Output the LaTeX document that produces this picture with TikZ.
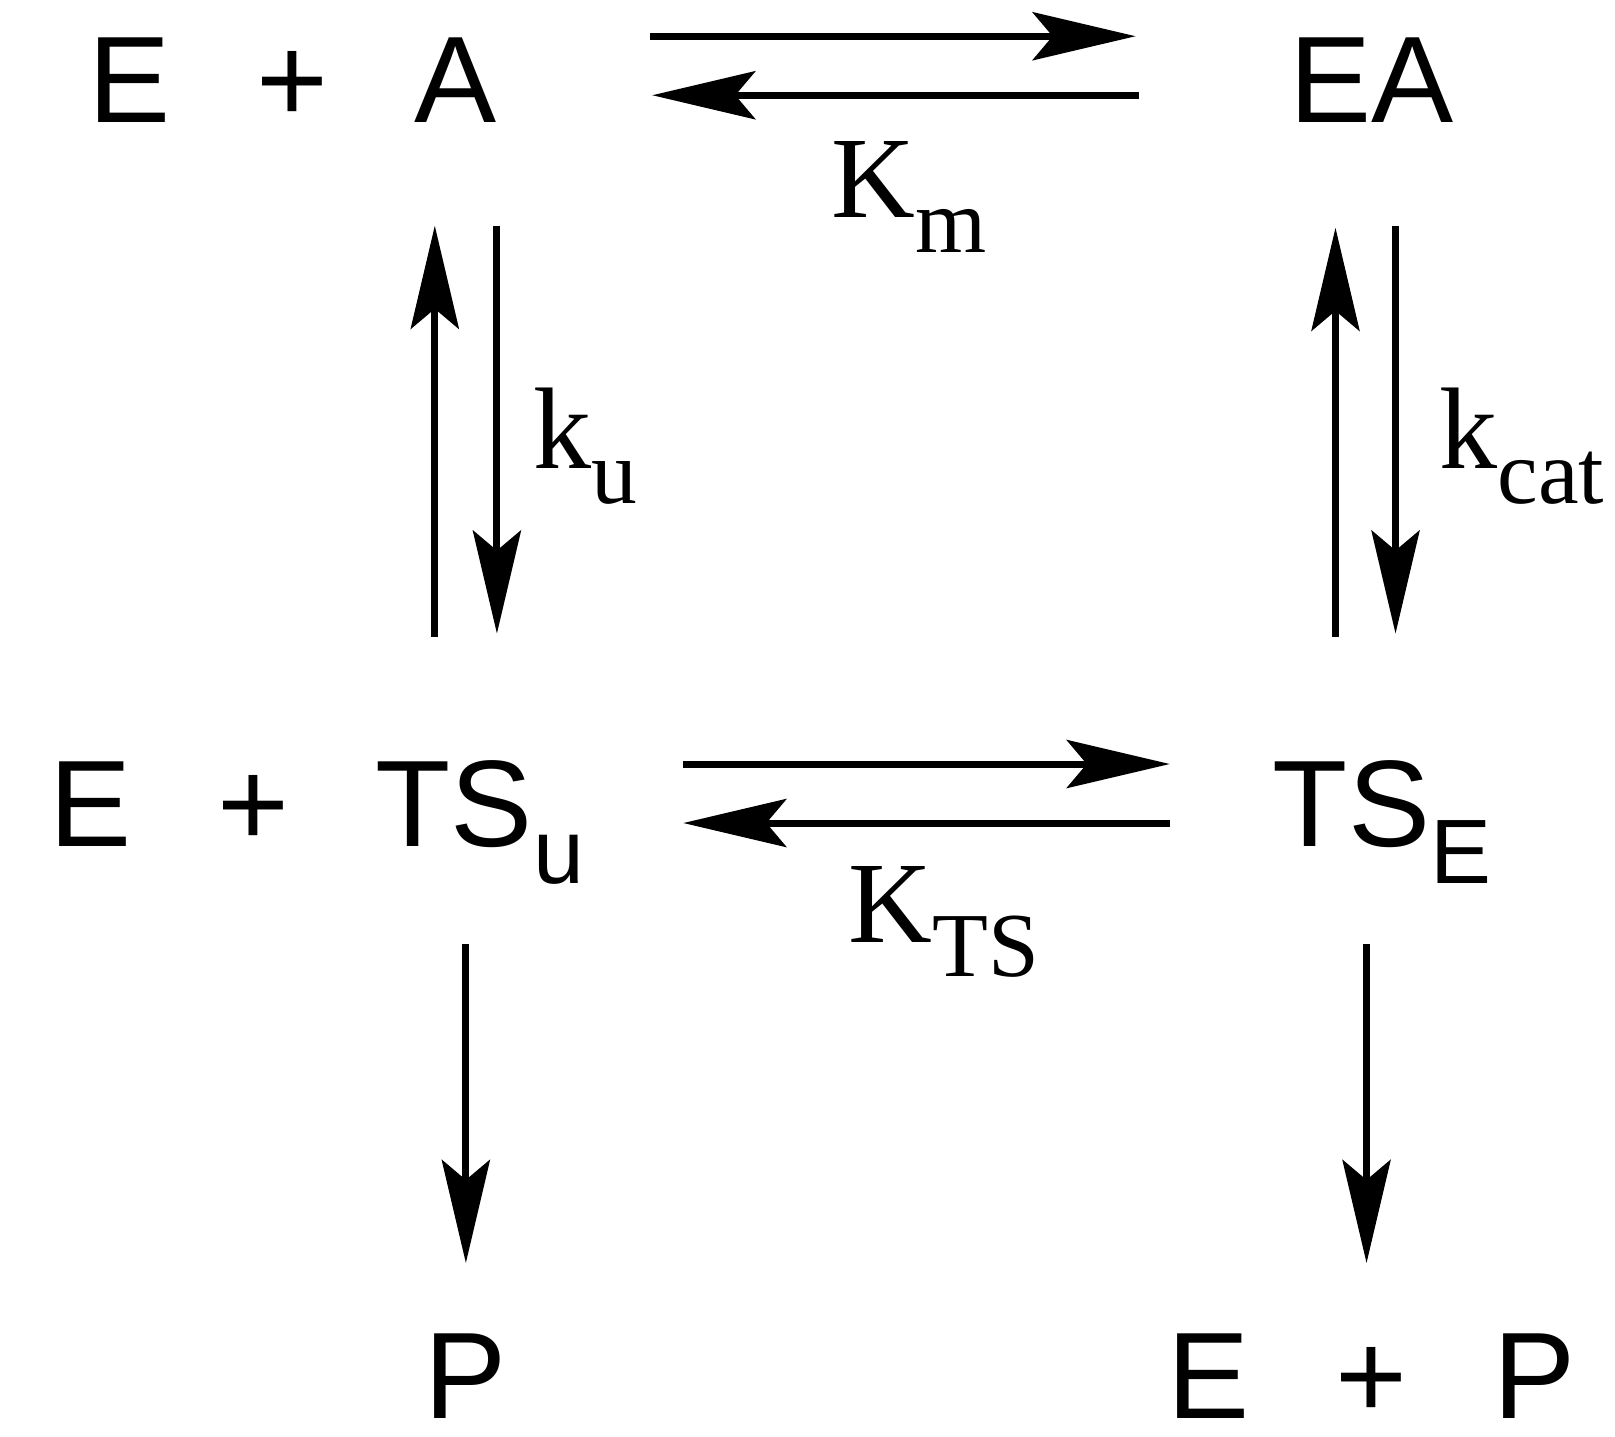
\documentclass[tikz,border=0pt]{standalone}
\usepackage{fontspec}
\setmainfont{Liberation Serif}
\setsansfont{Liberation Sans}
\usetikzlibrary{arrows.meta, positioning}
\newcommand{\lowsub}[1]{\raisebox{-0.3em}{\fontsize{26}{26}\selectfont #1}}
\tikzset{
  species/.style={font=\sffamily\fontsize{35}{36}\selectfont, inner sep=0pt, anchor=base},
  rate/.style={font=\fontsize{33}{34}\selectfont, inner sep=0pt, anchor=base},
  rxn/.style={line width=2pt, -{Stealth[length=1.03cm, width=0.48cm, inset=0.2cm]}}
}
\begin{document}
\begin{tikzpicture}[x=0.01035cm, y=-0.01035cm]
            \useasboundingbox (0,0) rectangle (1560,1388);
            % species
            \node[species] (EA0) at (283,118) {E\hspace{0.7em}+\hspace{0.7em}A};
            \node[species] (EA) at (1325,118) {EA};
            \node[species] (ETSu) at (306,818) {E\hspace{0.7em}+\hspace{0.7em}TS\lowsub{u}};
            \node[species] (TSE) at (1335,818) {TS\lowsub{E}};
            \node[species] (P) at (450,1370) {P};
            \node[species] (EP) at (1325,1370) {E\hspace{0.7em}+\hspace{0.7em}P};
            % rate constants
            \node[rate] (Km) at (878,210) {K\lowsub{m}};
            \node[rate] (ku) at (565,453) {k\lowsub{u}};
            \node[rate] (kcat) at (1470,453) {k\lowsub{cat}};
            \node[rate] (KTS) at (912,910) {K\lowsub{TS}};
            % arrow ends
            \coordinate (a1) at (628,35);  \coordinate (a2) at (1097,35);
            \coordinate (b1) at (1100,92); \coordinate (b2) at (630,92);
            \coordinate (c1) at (420,615); \coordinate (c2) at (420,218);
            \coordinate (d1) at (480,218); \coordinate (d2) at (480,612);
            \coordinate (e1) at (1290,615); \coordinate (e2) at (1290,220);
            \coordinate (f1) at (1348,218); \coordinate (f2) at (1348,612);
            \coordinate (g1) at (660,738); \coordinate (g2) at (1130,738);
            \coordinate (h1) at (1130,795); \coordinate (h2) at (660,795);
            \coordinate (i1) at (450,912); \coordinate (i2) at (450,1220);
            \coordinate (j1) at (1320,912); \coordinate (j2) at (1320,1220);
            \draw[rxn] (a1) -- (a2);
            \draw[rxn] (b1) -- (b2);
            \draw[rxn] (c1) -- (c2);
            \draw[rxn] (d1) -- (d2);
            \draw[rxn] (e1) -- (e2);
            \draw[rxn] (f1) -- (f2);
            \draw[rxn] (g1) -- (g2);
            \draw[rxn] (h1) -- (h2);
            \draw[rxn] (i1) -- (i2);
            \draw[rxn] (j1) -- (j2);
\end{tikzpicture}
\end{document}
